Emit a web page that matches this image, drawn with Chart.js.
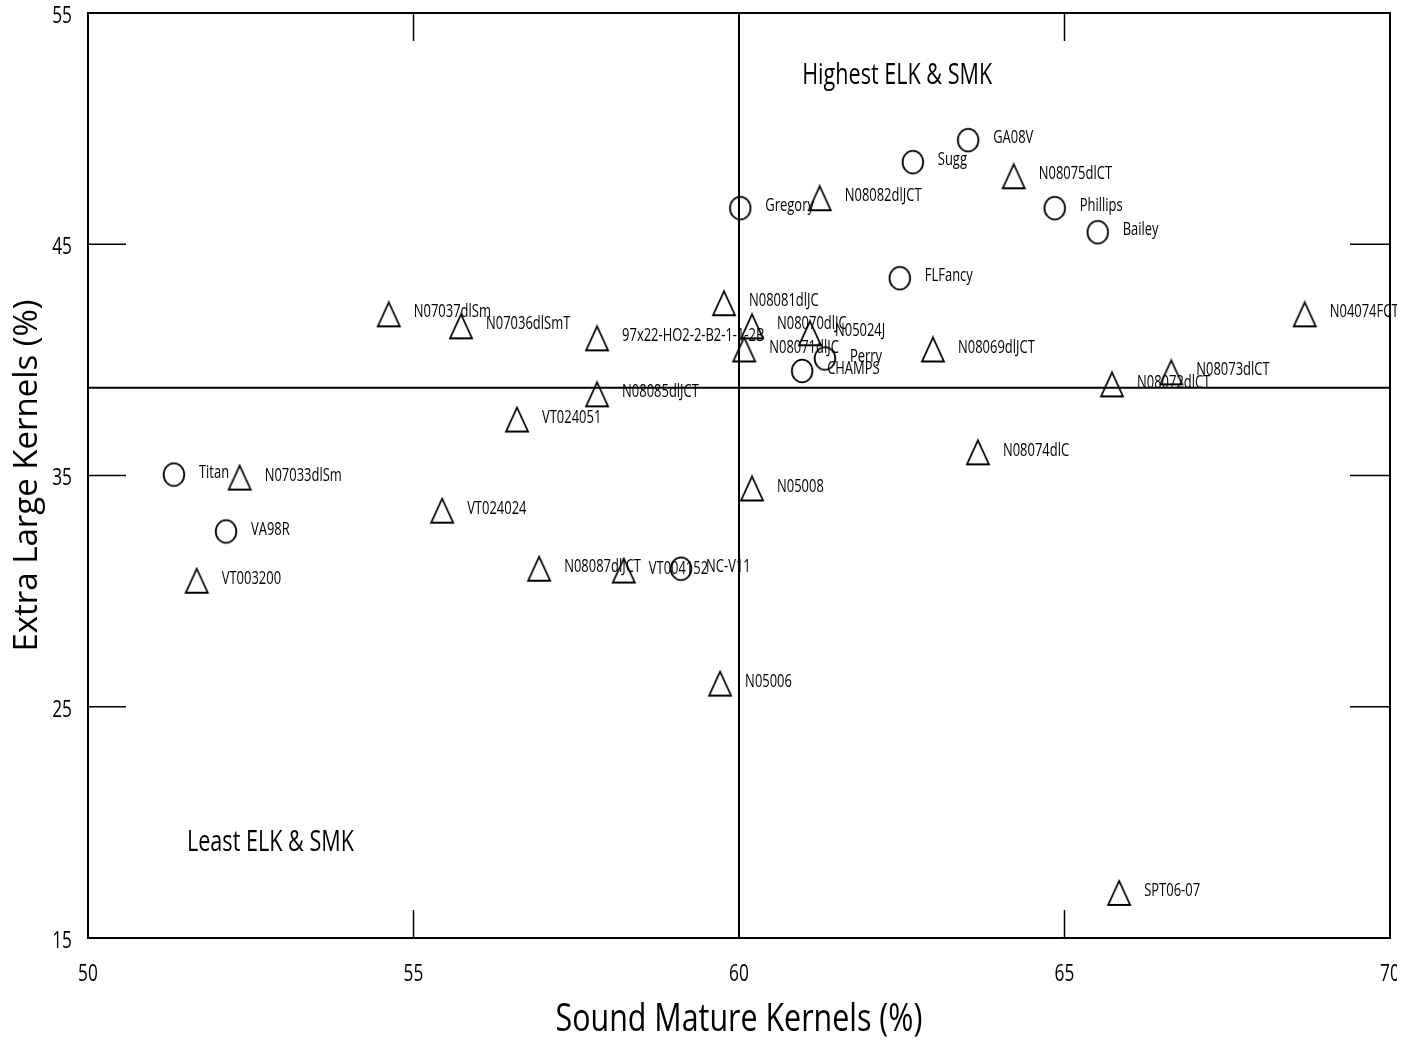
<!DOCTYPE html>
<html>
<head>
<meta charset="utf-8">
<script src="https://cdn.jsdelivr.net/npm/chart.js@4.4.1/dist/chart.umd.min.js"></script>
<style>
  html, body { margin: 0; padding: 0; background: #fff; }
  #wrap { width: 1397px; height: 1041px; }
</style>
</head>
<body>
<div id="wrap"><canvas id="elkChart" width="1397" height="1041"></canvas></div>
<script>
// cultivars (circles)
const cultivarNames = ['GA08V', 'Sugg', 'Gregory', 'Phillips', 'Bailey', 'FLFancy', 'Perry', 'CHAMPS', 'Titan', 'VA98R', 'NC-V11'];
const cultivarSMK = [63.52, 62.67, 60.02, 64.85, 65.51, 62.47, 61.32, 60.97, 51.32, 52.12, 59.11];
const cultivarELK = [49.50, 48.55, 46.56, 46.56, 45.52, 43.53, 40.06, 39.52, 35.04, 32.58, 30.97];

// breeding lines (triangles)
const lineNames = ['N08075dlCT', 'N08082dlJCT', 'N08081dlJC', 'N07037dlSm', 'N07036dlSmT', '97x22-HO2-2-B2-1-1-2B',
    'N08070dlJC', 'N05024J', 'N08071dlJC', 'N08069dlJCT', 'N04074FCT', 'N08073dlCT', 'N08072dlCT', 'N08085dlJCT',
    'VT024051', 'N08074dlC', 'N07033dlSm', 'N05008', 'VT024024', 'N08087dlJCT', 'VT004152', 'VT003200', 'N05006', 'SPT06-07'];
const lineSMK = [64.22, 61.24, 59.77, 54.62, 55.73, 57.82, 60.20, 61.09, 60.08, 62.98, 68.69, 66.64, 65.73, 57.82,
    56.59, 63.67, 52.33, 60.20, 55.44, 56.93, 58.23, 51.67, 59.71, 65.84];
const lineELK = [47.94, 46.99, 42.45, 41.97, 41.45, 40.93, 41.45, 41.15, 40.45, 40.45, 41.97, 39.46, 38.94, 38.51,
    37.42, 36.00, 34.91, 34.44, 33.48, 30.97, 30.89, 30.45, 26.00, 16.95];

// axes and quadrant lines
const xTicks = [50, 55, 60, 65, 70];
const yTicks = [15, 25, 35, 45, 55];
const smkCut = 60;
const elkCut = 38.8;

// quadrant captions [text, x, y]
const captions = [['Highest ELK & SMK', 60.97, 52.28], ['Least ELK & SMK', 51.52, 19.15]];

const FONT = '"Open Sans", "DejaVu Sans", sans-serif';
const SQUEEZE = 0.72; // the horizontal text in the original is condensed

function makeMarker(kind) {
    const c = document.createElement('canvas');
    c.width = 26;
    c.height = 28;
    const g = c.getContext('2d');
    g.strokeStyle = '#000';
    g.lineWidth = 1.8;
    g.beginPath();
    if (kind === 'circle') {
        g.ellipse(13, 14, 10.3, 11.3, 0, 0, Math.PI * 2);
    } else {
        g.moveTo(13, 2);
        g.lineTo(24, 26);
        g.lineTo(2, 26);
        g.closePath();
    }
    g.stroke();
    return c;
}

function drawText(ctx, text, x, y, size, align, squeeze) {
    ctx.save();
    ctx.translate(x, y);
    ctx.scale(squeeze, 1);
    ctx.font = size + 'px ' + FONT;
    ctx.textAlign = align;
    ctx.textBaseline = 'middle';
    ctx.fillStyle = '#000';
    ctx.fillText(text, 0, 0);
    ctx.restore();
}

const framePlugin = {
    id: 'frame',
    beforeDatasetsDraw(chart) {
        const { ctx, chartArea: a, scales: { x, y } } = chart;
        ctx.save();
        ctx.strokeStyle = '#000';

        // box
        ctx.lineWidth = 2;
        ctx.strokeRect(a.left, a.top, a.right - a.left, a.bottom - a.top);

        // quadrant lines
        const px = x.getPixelForValue(smkCut);
        const py = y.getPixelForValue(elkCut);
        ctx.beginPath();
        ctx.moveTo(px, a.top);
        ctx.lineTo(px, a.bottom);
        ctx.moveTo(a.left, py);
        ctx.lineTo(a.right, py);
        ctx.stroke();

        // inward ticks on all four sides
        ctx.lineWidth = 1.5;
        ctx.beginPath();
        xTicks.forEach(v => {
            const tx = x.getPixelForValue(v);
            ctx.moveTo(tx, a.top);
            ctx.lineTo(tx, a.top + 28);
            ctx.moveTo(tx, a.bottom);
            ctx.lineTo(tx, a.bottom - 28);
        });
        yTicks.forEach(v => {
            const ty = y.getPixelForValue(v);
            ctx.moveTo(a.left, ty);
            ctx.lineTo(a.left + 38, ty);
            ctx.moveTo(a.right, ty);
            ctx.lineTo(a.right - 40, ty);
        });
        ctx.stroke();
        ctx.restore();
    },
    afterDatasetsDraw(chart) {
        const { ctx, chartArea: a, scales: { x, y } } = chart;

        // tick labels
        xTicks.forEach(v => drawText(ctx, String(v), x.getPixelForValue(v), a.bottom + 36, 24, 'center', SQUEEZE));
        yTicks.forEach(v => drawText(ctx, String(v), a.left - 16, y.getPixelForValue(v) + 3, 24, 'right', SQUEEZE));

        // axis titles
        drawText(ctx, 'Sound Mature Kernels (%)', (a.left + a.right) / 2, a.bottom + 82, 38, 'center', 0.8);
        ctx.save();
        ctx.translate(28, (a.top + a.bottom) / 2);
        ctx.rotate(-Math.PI / 2);
        drawText(ctx, 'Extra Large Kernels (%)', 0, 0, 33, 'center', 1);
        ctx.restore();

        // quadrant captions
        captions.forEach(c => drawText(ctx, c[0], x.getPixelForValue(c[1]), y.getPixelForValue(c[2]), 30, 'left', SQUEEZE));

        // point labels
        chart.data.datasets.forEach((ds, i) => {
            chart.getDatasetMeta(i).data.forEach((pt, j) => {
                drawText(ctx, ds.names[j], pt.x + 25, pt.y - 2, 18, 'left', SQUEEZE);
            });
        });
    }
};

document.addEventListener('DOMContentLoaded', function() {
    const circle = makeMarker('circle');
    const triangle = makeMarker('triangle');

    new Chart(document.getElementById('elkChart'), {
        type: 'scatter',
        data: {
            datasets: [{
                label: 'Cultivars',
                names: cultivarNames,
                data: cultivarSMK.map((v, i) => ({ x: v, y: cultivarELK[i] })),
                pointStyle: circle
            }, {
                label: 'Breeding lines',
                names: lineNames,
                data: lineSMK.map((v, i) => ({ x: v, y: lineELK[i] })),
                pointStyle: triangle
            }]
        },
        options: {
            responsive: false,
            animation: false,
            events: [],
            layout: { padding: { left: 88, top: 13, right: 7, bottom: 103 } },
            scales: {
                x: { type: 'linear', display: false, min: 50, max: 70 },
                y: { type: 'linear', display: false, min: 15, max: 55 }
            },
            plugins: {
                legend: { display: false },
                tooltip: { enabled: false }
            }
        },
        plugins: [framePlugin]
    });
});
</script>
</body>
</html>
